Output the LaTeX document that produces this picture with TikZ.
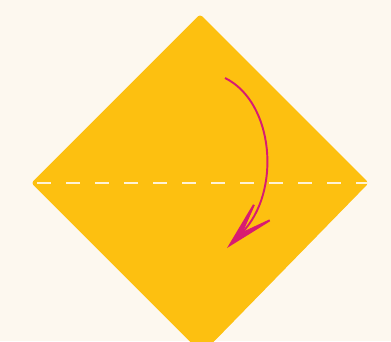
\documentclass[tikz,border=0pt]{standalone}
\usepackage{xcolor}
\usepackage{tikz}
\usetikzlibrary{arrows.meta}
\definecolor{cream}{HTML}{FDF8EF}
\definecolor{paper}{HTML}{FDC010}
\definecolor{foldline}{HTML}{FFF3D6}
\definecolor{magenta}{HTML}{D81B72}

\begin{document}
\begin{tikzpicture}[x=0.02cm,y=-0.02cm]
      \tikzset{sheet/.style={fill=paper,draw=paper,line width=0.6pt,rounded corners=1.5pt}, crease/.style={draw=foldline,line width=1.7pt,dash pattern=on 8pt off 8.5pt,dash phase=-3pt}, turn/.style={draw=magenta,line width=1.1pt,-{Stealth[length=37pt,width=18pt,inset=24pt]}}}
      \fill[cream] (0,0) rectangle (391,341);
      \useasboundingbox (0,0) rectangle (391,341);
      \coordinate (top) at (200,15); \coordinate (left) at (32,183); \coordinate (right) at (368,183); \coordinate (bottom) at (202,353);
      \draw[sheet] (top)--(right)--(bottom)--(left)--cycle;
      \draw[crease] (left)--(right);
      \coordinate (from) at (225,78); \coordinate (to) at (227,248);
      \draw[turn] (from) .. controls (274,102) and (282,192) .. (to);
    \end{tikzpicture}
\end{document}
